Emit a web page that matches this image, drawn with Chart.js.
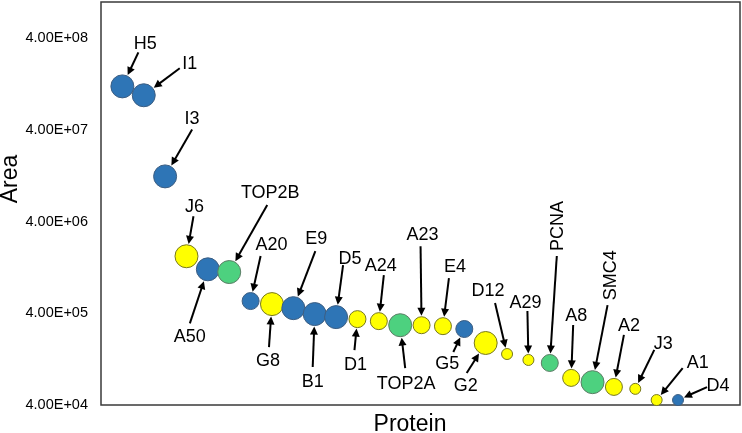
<!DOCTYPE html>
<html>
<head>
<meta charset="utf-8">
<script src="https://cdn.jsdelivr.net/npm/chart.js@4.4.0/dist/chart.umd.min.js"></script>
<style>
html, body { margin: 0; padding: 0; background: #fff; }
#wrap { width: 742px; height: 433px; position: relative; }
</style>
</head>
<body>
<div id="wrap"><canvas id="myChart"></canvas></div>
<script>
// proteins in plotted order
const proteins = ['H5', 'I1', 'I3', 'J6', 'A50', 'TOP2B', 'A20', 'G8', 'E9', 'B1', 'D5', 'D1', 'A24', 'TOP2A',
    'A23', 'E4', 'G5', 'G2', 'D12', 'A29', 'PCNA', 'A8', 'SMC4', 'A2', 'J3', 'A1', 'D4'];
// area (log axis)
const areas = [1.20e8, 9.6e7, 1.25e7, 1.68e6, 1.21e6, 1.13e6, 5.45e5, 5.05e5, 4.56e5, 3.93e5, 3.64e5, 3.46e5,
    3.29e5, 2.97e5, 2.97e5, 2.90e5, 2.70e5, 1.90e5, 1.44e5, 1.24e5, 1.15e5, 7.9e4, 7.1e4, 6.3e4, 6.0e4, 4.53e4, 4.53e4];
// bubble size class: 1 small, 2 medium, 3 large
const sizes = [3, 3, 3, 3, 3, 3, 2, 3, 3, 3, 3, 2, 2, 3, 2, 2, 2, 3, 1, 1, 2, 2, 3, 2, 1, 1, 1];
// colour group: b blue, y yellow, g green
const groups = ['b', 'b', 'b', 'y', 'b', 'g', 'b', 'y', 'b', 'b', 'b', 'y', 'y', 'g', 'y', 'y', 'b', 'y', 'y', 'y',
    'g', 'y', 'g', 'y', 'y', 'y', 'b'];
// y tick labels
const yTicks = [4e4, 4e5, 4e6, 4e7, 4e8];

// styling
const colors = {
    b: { fill: '#2E75B6', border: '#3D5E82' },
    y: { fill: '#FFFF00', border: '#77771F' },
    g: { fill: '#4DD17F', border: '#5C7D66' }
};
const radius = { 1: 5.5, 2: 8.5, 3: 11.5 };

// label placement relative to bubble centre: [labelDx, labelDy, tailDx, tailDy, vertical]
const labelLayout = [
    [23, -44, 16, -34], [46, -33, 36, -27], [27, -59, 27, -47], [8, -51, 7, -40], [-18, 66, -18, 54],
    [41, -80, 38, -67], [21, -57, 10, -45], [-4, 56, -3, 43], [23, -71, 22, -57], [-2, 67, -2, 53],
    [14, -60, 7, -52], [-2, 44, -3, 31], [2, -57, 5, -46], [6, 57, 5, 43], [1, -92, -1, -79],
    [12, -61, 6, -48], [-17, 34, -11, 23], [-20, 42, -19, 30], [-19, -64, -12, -51], [-3, -58, -1, -49],
    [7, -137, 7, -107, true], [5, -63, 2, -53], [17, -107, 15, -77, true], [15, -62, 10, -52],
    [28, -46, 19, -39], [41, -38, 26, -32], [40, -15, 29, -13]
];

const FONT = '"Liberation Sans", Arial, sans-serif';

function sci(v) {
    const e = Math.floor(Math.log10(v) + 1e-9);
    const m = v / Math.pow(10, e);
    return m.toFixed(2) + 'E+' + String(e).padStart(2, '0');
}

// scales should not reserve extra room for half tick labels
const noPadding = () => ({ left: 0, top: 0, right: 0, bottom: 0 });

const points = proteins.map((p, i) => ({ x: i + 1, y: areas[i], r: radius[sizes[i]] }));

// frame, axis titles, labels and arrows
const decorate = {
    id: 'decorate',
    beforeDatasetsDraw(chart) {
        const { ctx, chartArea: a } = chart;
        ctx.save();
        ctx.strokeStyle = '#3a3a3a';
        ctx.lineWidth = 1.5;
        ctx.strokeRect(a.left, a.top, a.right - a.left, a.bottom - a.top);

        ctx.fillStyle = '#000';
        ctx.font = '23px ' + FONT;
        ctx.textAlign = 'center';
        ctx.textBaseline = 'middle';
        ctx.fillText('Protein', 410, 425);
        ctx.translate(11, 179);
        ctx.rotate(-Math.PI / 2);
        ctx.fillText('Area', 0, 0);
        ctx.restore();
    },
    afterDatasetsDraw(chart) {
        const ctx = chart.ctx;
        const meta = chart.getDatasetMeta(0);
        ctx.save();
        ctx.fillStyle = '#000';
        ctx.strokeStyle = '#000';
        ctx.lineWidth = 2;
        ctx.font = '18px ' + FONT;
        ctx.textAlign = 'center';
        ctx.textBaseline = 'alphabetic';
        meta.data.forEach((el, i) => {
            const [lx, ly, tx, ty, vertical] = labelLayout[i];
            const cx = el.x, cy = el.y, r = points[i].r;
            // label
            ctx.save();
            ctx.translate(cx + lx, cy + ly);
            if (vertical) ctx.rotate(-Math.PI / 2);
            ctx.fillText(proteins[i], 0, 6.4);
            ctx.restore();
            // arrow from tail to bubble edge
            const sx = cx + tx, sy = cy + ty;
            const dx = cx - sx, dy = cy - sy;
            const len = Math.hypot(dx, dy);
            const ux = dx / len, uy = dy / len;
            const ex = cx - ux * (r + 1), ey = cy - uy * (r + 1);
            const head = 8, half = 4;
            ctx.beginPath();
            ctx.moveTo(sx, sy);
            ctx.lineTo(ex - ux * head * 0.8, ey - uy * head * 0.8);
            ctx.stroke();
            ctx.beginPath();
            ctx.moveTo(ex, ey);
            ctx.lineTo(ex - ux * head - uy * half, ey - uy * head + ux * half);
            ctx.lineTo(ex - ux * head + uy * half, ey - uy * head - ux * half);
            ctx.closePath();
            ctx.fill();
        });
        ctx.restore();
    }
};

const ctx = document.getElementById('myChart').getContext('2d');
new Chart(ctx, {
    type: 'bubble',
    data: {
        datasets: [{
            label: 'Area',
            data: points,
            backgroundColor: groups.map(g => colors[g].fill),
            borderColor: groups.map(g => colors[g].border),
            borderWidth: 1,
            clip: false
        }]
    },
    options: {
        responsive: true,
        maintainAspectRatio: false,
        animation: false,
        layout: { autoPadding: false, padding: { top: 2, right: 2, left: 0, bottom: 0 } },
        plugins: { legend: { display: false }, tooltip: { enabled: false } },
        scales: {
            x: {
                type: 'linear',
                min: 0,
                max: 29.9,
                grid: { display: false, drawTicks: false },
                border: { display: false },
                ticks: { display: false },
                afterFit: s => { s.height = 28; s.getPadding = noPadding; }
            },
            y: {
                type: 'logarithmic',
                min: 4e4,
                max: 1e9,
                grid: { display: false, drawTicks: false, tickLength: 0 },
                border: { display: false },
                afterBuildTicks: s => { s.ticks = yTicks.map(v => ({ value: v })); },
                ticks: {
                    padding: 13,
                    color: '#000',
                    font: { family: FONT, size: 14.5 },
                    callback: v => sci(v)
                },
                afterFit: s => { s.width = 101; s.getPadding = noPadding; }
            }
        }
    },
    plugins: [decorate]
});
</script>
</body>
</html>
